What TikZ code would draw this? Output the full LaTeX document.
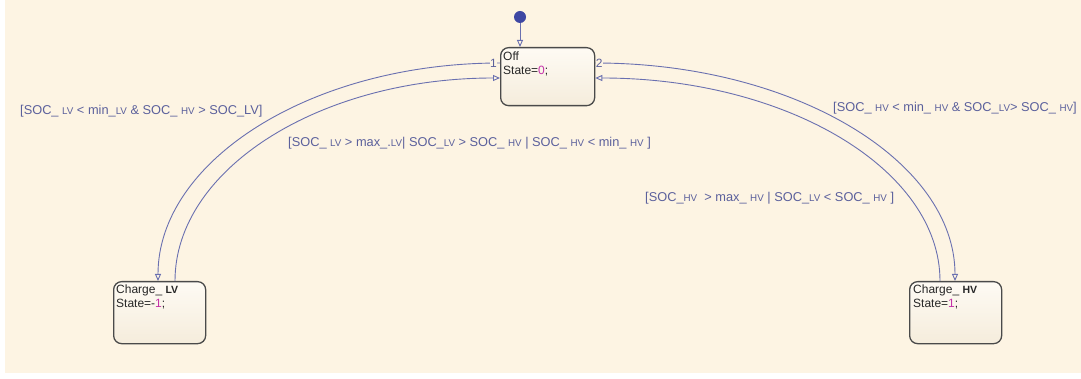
\documentclass[tikz,border=0pt]{standalone}
\usepackage{fontspec}
\setmainfont{Liberation Sans}
\usetikzlibrary{arrows.meta,calc}
\definecolor{paper}{HTML}{FDF4E3}
\definecolor{wire}{HTML}{6A70B0}
\definecolor{guardtxt}{HTML}{5B609C}
\definecolor{num}{HTML}{C42FA8}
\definecolor{frame}{HTML}{4A4A4A}
\definecolor{dotblue}{HTML}{3E47A3}
\newcommand{\sm}[1]{{\fontsize{9.8}{10}\selectfont #1}}
\newcommand{\smb}[1]{{\fontsize{10.5}{11}\selectfont\bfseries #1}}
\begin{document}
\begin{tikzpicture}[x=1pt,y=-1pt,
  statebox/.style={draw=frame, line width=1.3pt, rounded corners=8pt,
    top color=white!60!paper, bottom color=paper!92!black!40!paper,
    anchor=north west, inner sep=0pt},
  statetxt/.style={anchor=north west, align=left, inner sep=0pt,
    font=\fontsize{12}{14.5}\selectfont, text=black!85},
  guard/.style={anchor=west, inner sep=0pt, text=guardtxt,
    font=\fontsize{12.8}{14}\selectfont},
  order/.style={fill=paper, inner sep=0.4pt, text=guardtxt,
    font=\fontsize{12}{12}\selectfont},
  wireline/.style={draw=wire, line width=0.9pt},
  tip/.style={-{Triangle[open,length=7pt,width=6pt]}}
]
\useasboundingbox (0,0) rectangle (1081,379);
\fill[white] (0,0) rectangle (1081,379);
\fill[paper] (5,0) rectangle (1081,373);

% states
\node[statebox, minimum width=94pt, minimum height=58pt] (off) at (500,47) {};
\node[statebox, minimum width=92pt, minimum height=62pt] (lv) at (113,281) {};
\node[statebox, minimum width=92pt, minimum height=62pt] (hv) at (909,281) {};

\node[statetxt] (offtxt) at ([xshift=3pt,yshift=-4.5pt]off.north west)
  {Off\\State=\textcolor{num}{0};};
\node[statetxt] (lvtxt) at ([xshift=3pt,yshift=-3.5pt]lv.north west)
  {Charge\_ \smb{LV}\\State=-\textcolor{num}{1};};
\node[statetxt] (hvtxt) at ([xshift=4pt,yshift=-3.5pt]hv.north west)
  {Charge\_ \smb{HV}\\State=\textcolor{num}{1};};

% default transition
\node[circle, fill=dotblue, minimum size=12pt, inner sep=0pt] (init) at (520,17) {};
\draw[wireline, tip] (init.south) -- (init.south |- off.north);

% Off <-> Charge_LV
\draw[wireline, tip] ([yshift=-16pt]off.north west)
  .. controls +(-189,0) and +(0,-120) .. ([xshift=45pt]lv.north west);
\draw[wireline, tip] ([xshift=62pt]lv.north west)
  .. controls +(0,-112) and +(-180,0) .. ([yshift=-31pt]off.north west);

% Off <-> Charge_HV
\draw[wireline, tip] ([yshift=-16pt]off.north east)
  .. controls +(199,0) and +(0,-120) .. ([xshift=46pt]hv.north west);
\draw[wireline, tip] ([xshift=31pt]hv.north west)
  .. controls +(0,-112) and +(191,0) .. ([yshift=-31pt]off.north east);

% execution order
\node[order] (o1) at ([xshift=-6.5pt,yshift=-16pt]off.north west) {1};
\node[order] (o2) at ([xshift=4pt,yshift=-16pt]off.north east) {2};

% guards
\node[guard] (g1) at (20,111)
  {[SOC\_ \sm{LV} < min\_\sm{LV} \& SOC\_ \sm{HV} > SOC\_LV]};
\node[guard] (g2) at (288,143)
  {[SOC\_ \sm{LV} > max\_.\sm{LV}| SOC\_\sm{LV} > SOC\_ \sm{HV} | SOC\_ \sm{HV} < min\_ \sm{HV} ]};
\node[guard] (g3) at (833,108)
  {[SOC\_ \sm{HV} < min\_ \sm{HV} \& SOC\_\sm{LV}> SOC\_ \sm{HV}]};
\node[guard] (g4) at (645,198)
  {[SOC\_\sm{HV} \ > max\_ \sm{HV} | SOC\_\sm{LV} < SOC\_ \sm{HV} ]};
\end{tikzpicture}
\end{document}
